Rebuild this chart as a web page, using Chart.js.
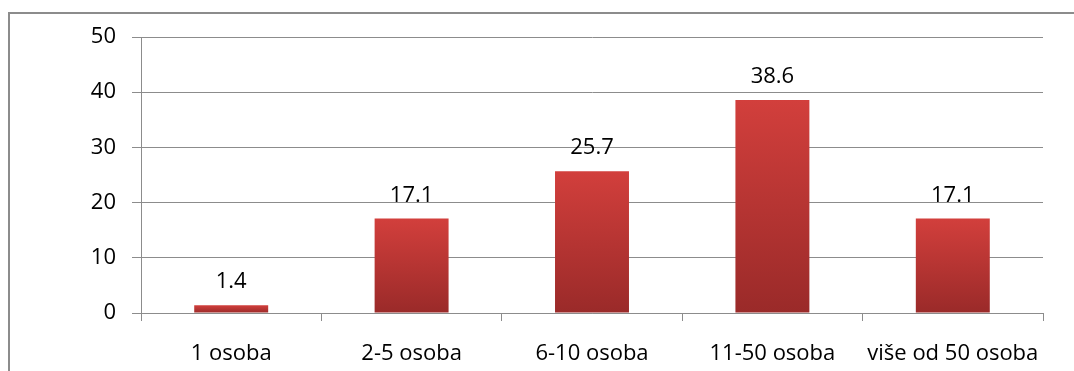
<!DOCTYPE html>
<html>
<head>
<meta charset="utf-8">
<script src="https://cdn.jsdelivr.net/npm/chart.js@4"></script>
<style>
  html, body { margin: 0; padding: 0; background: #fff; }
  #wrap { position: relative; width: 1074px; height: 371px; }
</style>
</head>
<body>
<div id="wrap"><canvas id="bar-chart"></canvas></div>
<script>
// Data for the chart
const categories = ["1 osoba", "2-5 osoba", "6-10 osoba", "11-50 osoba", "više od 50 osoba"];
const values = [1.4, 17.1, 25.7, 38.6, 17.1];
const yTicks = [0, 10, 20, 30, 40, 50];

const FONT = "'Open Sans', sans-serif";

// Draw the grey frame around the chart
const framePlugin = {
  id: "frame",
  beforeDraw(chart) {
    const c = chart.ctx;
    c.save();
    c.strokeStyle = "#8c8c8c";
    c.lineWidth = 2;
    c.beginPath();
    c.moveTo(9, chart.height + 5);
    c.lineTo(9, 13);
    c.lineTo(chart.width + 5, 13);
    c.stroke();
    c.restore();
  }
};

// Value labels on top of each bar
const valueLabels = {
  id: "valueLabels",
  afterDatasetsDraw(chart) {
    const c = chart.ctx;
    const meta = chart.getDatasetMeta(0);
    c.save();
    c.font = "22px " + FONT;
    c.fillStyle = "#000";
    c.textAlign = "center";
    c.textBaseline = "alphabetic";
    meta.data.forEach((bar, i) => {
      c.fillText(values[i].toString(), bar.x, bar.y - 17);
    });
    c.restore();
  }
};

function barGradient(context) {
  const chart = context.chart;
  if (!chart.chartArea || context.type !== "data") return "#c03a37";
  const y = chart.scales.y;
  const top = y.getPixelForValue(values[context.dataIndex]);
  const bottom = y.getPixelForValue(0);
  const g = chart.ctx.createLinearGradient(0, top, 0, bottom);
  g.addColorStop(0, "#d23f3c");
  g.addColorStop(1, "#9a2a29");
  return g;
}

const ctx = document.getElementById("bar-chart").getContext("2d");
const barChart = new Chart(ctx, {
  type: "bar",
  data: {
    labels: categories,
    datasets: [{
      data: values,
      backgroundColor: barGradient,
      borderWidth: 0,
      categoryPercentage: 1,
      barPercentage: 0.41
    }]
  },
  options: {
    responsive: true,
    maintainAspectRatio: false,
    animation: false,
    layout: { padding: { top: 37, right: 31, left: 0, bottom: 0 } },
    plugins: {
      legend: { display: false },
      tooltip: { enabled: false }
    },
    scales: {
      x: {
        grid: {
          offset: true,
          drawOnChartArea: false,
          drawTicks: true,
          tickLength: 8,
          color: "#8c8c8c"
        },
        border: { color: "#8c8c8c", width: 1 },
        ticks: {
          color: "#000",
          font: { family: FONT, size: 22 },
          padding: 20,
          maxRotation: 0,
          autoSkip: false
        },
        afterFit(scale) { scale.height = 58; }
      },
      y: {
        min: 0,
        max: 50,
        afterBuildTicks(scale) { scale.ticks = yTicks.map(v => ({ value: v })); },
        grid: { color: "#8c8c8c", tickLength: 9, lineWidth: 1 },
        border: { color: "#8c8c8c", width: 1 },
        ticks: {
          color: "#000",
          font: { family: FONT, size: 22 },
          padding: 16
        },
        afterFit(scale) { scale.width = 141; }
      }
    }
  },
  plugins: [framePlugin, valueLabels]
});
</script>
</body>
</html>
